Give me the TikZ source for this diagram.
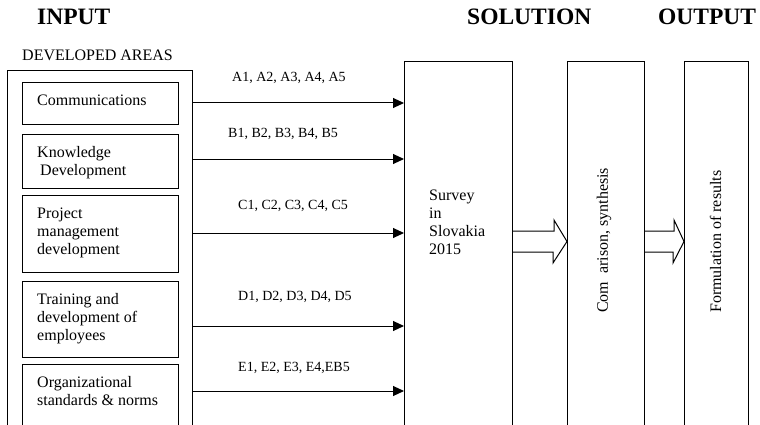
\documentclass[tikz,border=0pt]{standalone}
\usepackage{fontspec}
\setmainfont{Liberation Serif}
\usetikzlibrary{arrows.meta,calc}

\tikzset{
  box/.style={draw, line width=1pt, minimum width=#1, anchor=north west, inner sep=0pt},
  boxtext/.style={anchor=north west, align=left, inner sep=0pt, font=\fontsize{16}{18}\selectfont},
  title/.style={anchor=base west, inner sep=0pt, font=\fontsize{23.5}{28}\selectfont\bfseries},
  flowlabel/.style={anchor=base west, inner sep=0pt, font=\fontsize{14}{16}\selectfont},
  flow/.style={line width=1pt, -{Triangle[length=11pt,width=10pt]}},
  fat/.style={line width=1pt, line join=miter},
  vtext/.style={rotate=90, anchor=west, inner sep=0pt, font=\fontsize{16}{18}\selectfont}
}

\begin{document}
\begin{tikzpicture}[x=1pt,y=-1pt]
\useasboundingbox (0,0) rectangle (760,425);
\clip (0,0) rectangle (760,425);

% headings
\node[title] (tin) at (37,25) {INPUT};
\node[title] (tsol) at (467,25) {SOLUTION};
\node[title] (tout) at (658,25) {OUTPUT};
\node[anchor=base west, inner sep=0pt, font=\fontsize{16}{18}\selectfont] (dev) at (22,61) {DEVELOPED AREAS};

% input column
\node[box=185, minimum height=380] (outer) at (7,70) {};
\node[box=156, minimum height=42] (comm) at (22,82) {};
\node[box=156, minimum height=54] (know) at (22,134) {};
\node[box=156, minimum height=77] (proj) at (22,195) {};
\node[box=156, minimum height=76] (train) at (22,281) {};
\node[box=156, minimum height=90] (org) at (22,364) {};

\node[boxtext] (tcomm) at ($(comm.north west)+(15,10.4)$) {\strut Communications};
\node[boxtext] (tknow) at ($(know.north west)+(15,10.4)$) {\strut Knowledge\\\hspace{3pt}Development};
\node[boxtext] (tproj) at ($(proj.north west)+(15,10.4)$) {\strut Project\\management\\development};
\node[boxtext] (ttrain) at ($(train.north west)+(15,10.4)$) {\strut Training and\\development of\\employees};
\node[boxtext] (torg) at ($(org.north west)+(15,10.4)$) {\strut Organizational\\standards \& norms};

% solution and output columns
\node[box=108, minimum height=380] (survey) at (404,61) {};
\node[box=77, minimum height=380] (comp) at (567,61) {};
\node[box=64, minimum height=380] (form) at (684,61) {};

\node[boxtext] (tsurvey) at ($(survey.north west)+(25,127)$) {\strut Survey\\in\\Slovakia\\2015};
\node[vtext] (tcomp) at ($(comp.center |- 0,313)+(-2,0)$) {Com\hspace{0.5em}arison, synthesis};
\node[vtext] (tform) at ($(form.center |- 0,313)+(-1,0)$) {Formulation of results};

% input flows
\foreach \y/\lx/\ly/\txt in {
  103/232/81.6/{A1, A2, A3, A4, A5},
  159/228/137.6/{B1, B2, B3, B4, B5},
  233/238/209.6/{C1, C2, C3, C4, C5},
  326/238/300.6/{D1, D2, D3, D4, D5},
  391/238/371.6/{E1, E2, E3, E4,EB5}} {
  \draw[flow] (outer.east |- 0,\y) -- (survey.west |- 0,\y);
  \node[flowlabel] at (\lx,\ly) {\txt};
}

% block arrows between stages
\coordinate (s1) at (survey.east |- 0,241.5);
\coordinate (s2) at (comp.east |- 0,241.5);
\draw[fat] (s1) ++(0,-10.5) -- ++(41,0) -- ++(0,-11) -- (comp.west |- s1)
  -- ++(-14,21.5) -- ++(0,-11) -- ++(-41,0);
\draw[fat] (s2) ++(0,-10.5) -- ++(29,0) -- ++(0,-11) -- (form.west |- s2)
  -- ++(-11,21.5) -- ++(0,-11) -- ++(-29,0);
\end{tikzpicture}
\end{document}
